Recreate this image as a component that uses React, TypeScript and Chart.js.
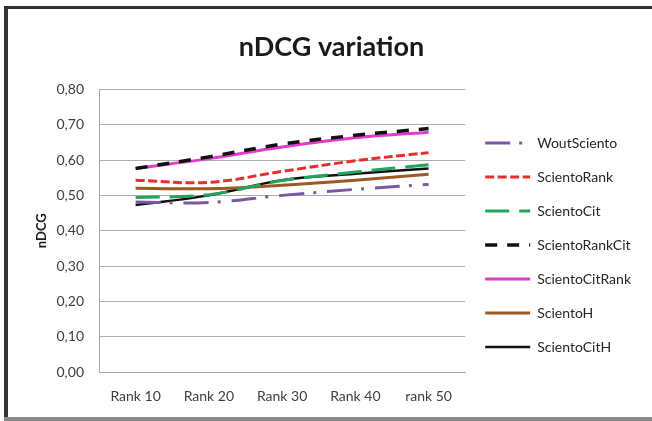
import React, { useEffect, useRef } from "react";
import { Chart, registerables } from "chart.js";

Chart.register(...registerables);

const categories = ["Rank 10", "Rank 20", "Rank 30", "Rank 40", "rank 50"];
const woutSciento = [0.481, 0.48, 0.5, 0.517, 0.531];
const scientoRank = [0.543, 0.537, 0.568, 0.598, 0.621];
const scientoCit = [0.494, 0.502, 0.542, 0.566, 0.587];
const scientoRankCit = [0.576, 0.609, 0.645, 0.67, 0.689];
const scientoCitRank = [0.576, 0.604, 0.637, 0.663, 0.679];
const scientoH = [0.52, 0.519, 0.529, 0.543, 0.56];
const scientoCitH = [0.473, 0.5, 0.543, 0.561, 0.576];
const yTicks = [0, 0.1, 0.2, 0.3, 0.4, 0.5, 0.6, 0.7, 0.8];

const FONT = "Lato, 'Open Sans', sans-serif";

export default function App() {
  const ref = useRef<HTMLCanvasElement | null>(null);

  useEffect(() => {
    if (!ref.current) return;
    const mk = (label: string, data: number[], color: string, width: number, dash: number[]) => ({
      label,
      data,
      borderColor: color,
      backgroundColor: color,
      borderWidth: width,
      borderDash: dash,
      borderCapStyle: "butt" as const,
      pointRadius: 0,
      pointHoverRadius: 0,
      tension: 0.4,
      fill: false,
    });
    const chart = new Chart(ref.current, {
      type: "line",
      data: {
        labels: categories,
        datasets: [
          mk("WoutSciento", woutSciento, "#7A58A8", 3, [25, 9, 3, 11]),
          mk("ScientoRank", scientoRank, "#E2302C", 3, [9, 3.5]),
          mk("ScientoCit", scientoCit, "#22A35E", 3, [24, 10]),
          mk("ScientoRankCit", scientoRankCit, "#111111", 3.5, [12, 10]),
          mk("ScientoCitRank", scientoCitRank, "#E03CD0", 3, []),
          mk("ScientoH", scientoH, "#9C5A22", 3, []),
          mk("ScientoCitH", scientoCitH, "#111111", 2.5, []),
        ],
      },
      options: {
        responsive: false,
        animation: false,
        maintainAspectRatio: false,
        layout: { padding: { left: 22, right: 11, top: 0, bottom: 9 } },
        plugins: {
          title: {
            display: true,
            text: "nDCG variation",
            color: "#1a1a1a",
            font: { family: FONT, size: 27, weight: "bold" },
            padding: { top: 31, bottom: 26 },
          },
          legend: {
            display: true,
            position: "right",
            align: "start",
            maxWidth: 220,
            title: { display: true, text: " ", font: { family: FONT, size: 10 }, padding: { top: 104, bottom: 0 } },
            labels: {
              usePointStyle: true,
              pointStyle: "line",
              pointStyleWidth: 45,
              padding: 20,
              color: "#262626",
              font: { family: FONT, size: 14 },
              generateLabels: (c: any) => {
                const items = Chart.defaults.plugins.legend.labels.generateLabels(c);
                return items.map((it: any) => {
                  const ds: any = c.data.datasets[it.datasetIndex];
                  return { ...it, lineDash: ds.borderDash || [], lineWidth: ds.borderWidth, strokeStyle: ds.borderColor, pointStyle: "line" };
                });
              },
            },
          },
          tooltip: { enabled: false },
        },
        scales: {
          x: {
            offset: true,
            grid: { display: false, drawTicks: false },
            border: { display: true, color: "#A6A6A6", width: 1 },
            ticks: { color: "#404040", font: { family: FONT, size: 14 }, padding: 16, maxRotation: 0 },
            afterFit: (s: any) => {
              s.height = 40;
            },
          },
          y: {
            min: 0,
            max: 0.8,
            afterBuildTicks: (s: any) => {
              s.ticks = yTicks.map((v) => ({ value: v }));
            },
            afterFit: (s: any) => {
              s.width = 77;
            },
            grid: { color: "#ADADAD", drawTicks: false, lineWidth: 1 },
            border: { display: true, color: "#A6A6A6", width: 1 },
            ticks: {
              color: "#404040",
              font: { family: FONT, size: 14 },
              padding: 15,
              callback: (v: any) => Number(v).toFixed(2).replace(".", ","),
            },
            title: {
              display: true,
              text: "nDCG",
              color: "#1a1a1a",
              font: { family: FONT, size: 13, weight: "bold" },
              padding: { top: 12, bottom: 4 },
            },
          },
        },
      },
    });
    let alive = true;
    if ((document as any).fonts) {
      Promise.all([
        (document as any).fonts.load("14px Lato"),
        (document as any).fonts.load("bold 27px Lato"),
      ]).then(() => {
        if (alive) chart.update();
      }).catch(() => {});
    }
    return () => {
      alive = false;
      chart.destroy();
    };
  }, []);

  return (
    <div style={{ position: "absolute", left: 0, top: 0, width: 652, height: 421, background: "#fff", overflow: "hidden" }}>
      <div style={{ position: "absolute", left: 4, top: 6, width: 660, height: 3, background: "#333" }} />
      <div style={{ position: "absolute", left: 4, top: 6, width: 4, height: 415, background: "#333" }} />
      <div style={{ position: "absolute", left: 4, top: 417, width: 660, height: 4, background: "#8a8a8a" }} />
      <canvas ref={ref} width={652} height={421} style={{ position: "absolute", left: 0, top: 0, width: 652, height: 421 }} />
    </div>
  );
}
